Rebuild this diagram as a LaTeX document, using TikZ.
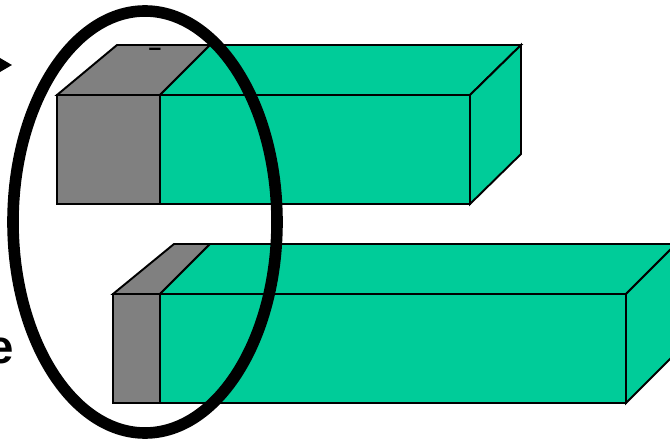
\documentclass[tikz,border=0pt]{standalone}
\usepackage{fontspec}
\setmainfont{Liberation Sans}
\usetikzlibrary{arrows.meta}
\definecolor{barGreen}{RGB}{0,204,153}
\definecolor{barGray}{RGB}{128,128,128}

\begin{document}
\begin{tikzpicture}[x=0.02cm,y=-0.02cm,line join=miter,
  face/.style={draw=black,line width=1.1pt},
  gface/.style={face,fill=barGray},
  cface/.style={face,fill=barGreen}]
\useasboundingbox (0,0) rectangle (670,439);
\clip (0,0) rectangle (670,439);
% upper bar
\filldraw[gface] (57,95) rectangle (160,204);
\filldraw[cface] (160,95) rectangle (470,204);
\filldraw[gface] (57,95) -- (117,45) -- (210,45) -- (160,95) -- cycle;
\filldraw[cface] (160,95) -- (210,45) -- (521,45) -- (470,95) -- cycle;
\filldraw[cface] (470,95) -- (521,45) -- (521,154) -- (470,204) -- cycle;
\node[inner sep=0pt,font=\fontsize{13}{15}\selectfont\bfseries] (dash) at (155,52) {--};
% lower bar
\filldraw[gface] (113,294) rectangle (160,403);
\filldraw[cface] (160,294) rectangle (626,403);
\filldraw[gface] (113,294) -- (174,244) -- (210,244) -- (160,294) -- cycle;
\filldraw[cface] (160,294) -- (210,244) -- (676,244) -- (626,294) -- cycle;
\filldraw[cface] (626,294) -- (676,244) -- (676,353) -- (626,403) -- cycle;
% ring and marks
\draw[line width=6.6pt] (145,222) ellipse [x radius=132,y radius=211];
\coordinate (tail) at (-60,65);
\coordinate (tip) at (12,65);
\draw[line width=1.5pt,-{Triangle[length=14pt,width=16pt]}] (tail) -- (tip);
\node[anchor=base east,inner sep=0pt,font=\fontsize{27}{30}\selectfont\bfseries] (lbl) at (14,363) {e};
\end{tikzpicture}
\end{document}
